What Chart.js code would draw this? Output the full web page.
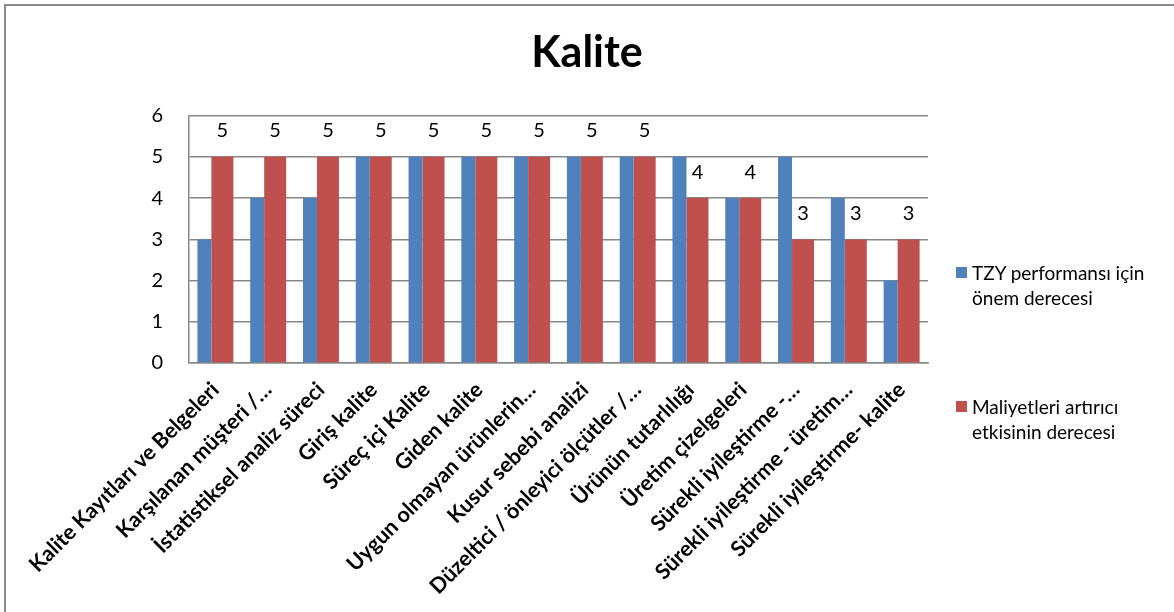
<!DOCTYPE html>
<html lang="tr">
<head>
<meta charset="utf-8">
<title>Kalite</title>
<script src="https://cdn.jsdelivr.net/npm/chart.js@4/dist/chart.umd.min.js"></script>
<style>
  html, body { margin: 0; padding: 0; background: #fff; overflow: hidden; }
  #wrap { position: relative; width: 1174px; height: 612px; }
  #frame {
    position: absolute; left: 4px; top: 4px; width: 2000px; height: 2000px;
    border: 2px solid #8a8a8a; pointer-events: none;
  }
  #legend {
    position: absolute; left: 956px; top: 0; font-family: Lato, sans-serif;
    font-size: 19px; color: #000; line-height: 25px;
  }
  .item { position: absolute; left: 0; white-space: nowrap; }
  .swatch { position: absolute; left: 0; top: 7px; width: 11px; height: 11px; }
  .label { position: absolute; left: 16px; top: 0; }
</style>
</head>
<body>
<div id="wrap">
  <canvas id="kaliteChart" width="1174" height="612"></canvas>
  <div id="frame"></div>
  <div id="legend"></div>
</div>
<script>
// Categories and series
const categories = [
  'Kalite Kayıtları ve Belgeleri',
  'Karşılanan müşteri /…',
  'İstatistiksel analiz süreci',
  'Giriş kalite',
  'Süreç içi Kalite',
  'Giden kalite',
  'Uygun olmayan ürünlerin…',
  'Kusur sebebi analizi',
  'Düzeltici / önleyici ölçütler /…',
  'Ürünün tutarlılığı',
  'Üretim çizelgeleri',
  'Sürekli iyileştirme -…',
  'Sürekli iyileştirme - üretim…',
  'Sürekli iyileştirme- kalite'
];
const onemDerecesi = [3, 4, 4, 5, 5, 5, 5, 5, 5, 5, 4, 5, 4, 2];
const maliyetDerecesi = [5, 5, 5, 5, 5, 5, 5, 5, 5, 4, 4, 3, 3, 3];
const seriesNames = [
  ['TZY performansı için', 'önem derecesi'],
  ['Maliyetleri artırıcı', 'etkisinin derecesi']
];
const yTicks = [0, 1, 2, 3, 4, 5, 6];

const BLUE = '#4F81BD';
const RED = '#C0504D';
const GRID = '#878787';

// Value labels above the red bars
const valueLabels = {
  id: 'valueLabels',
  afterDatasetsDraw(chart) {
    const ctx = chart.ctx;
    const meta = chart.getDatasetMeta(1);
    ctx.save();
    ctx.font = '20px Lato, sans-serif';
    ctx.fillStyle = '#000';
    ctx.textAlign = 'center';
    ctx.textBaseline = 'middle';
    meta.data.forEach((bar, i) => {
      ctx.fillText(String(maliyetDerecesi[i]), bar.x, bar.y - 26);
    });
    ctx.restore();
  }
};

const ctx = document.getElementById('kaliteChart').getContext('2d');
new Chart(ctx, {
  type: 'bar',
  data: {
    labels: categories,
    datasets: [{
      label: seriesNames[0].join(' '),
      data: onemDerecesi,
      backgroundColor: BLUE,
      categoryPercentage: 0.833,
      barPercentage: 0.636
    }, {
      label: seriesNames[1].join(' '),
      data: maliyetDerecesi,
      backgroundColor: RED,
      categoryPercentage: 0.53,
      barPercentage: 1.571
    }]
  },
  options: {
    responsive: false,
    animation: false,
    plugins: {
      legend: { display: false },
      tooltip: { enabled: false },
      title: {
        display: true,
        text: 'Kalite',
        color: '#000',
        font: { family: 'Lato, sans-serif', size: 43, weight: 'bold' },
        padding: { top: 27, bottom: 37 }
      }
    },
    scales: {
      x: {
        grid: { display: false, drawTicks: false },
        border: { display: true, color: GRID, width: 1.5 },
        ticks: {
          autoSkip: false,
          minRotation: 45,
          maxRotation: 45,
          padding: 14,
          color: '#000',
          font: { family: 'Lato, sans-serif', size: 21.5, weight: 'bold' }
        },
        afterFit(scale) { scale.height = 249; }
      },
      y: {
        min: 0,
        max: 6,
        afterBuildTicks(scale) { scale.ticks = yTicks.map(v => ({ value: v })); },
        grid: { color: GRID, lineWidth: 1.5, drawTicks: false },
        border: { display: true, color: GRID, width: 1.5 },
        ticks: {
          padding: 26,
          color: '#000',
          font: { family: 'Lato, sans-serif', size: 20 }
        },
        afterFit(scale) { scale.width = 189; }
      },
      // empty right-hand axis keeps room for the legend
      legendSpace: {
        position: 'right',
        min: 0,
        max: 6,
        grid: { display: false, drawTicks: false },
        border: { display: false },
        ticks: { display: false },
        afterFit(scale) { scale.width = 246; }
      }
    }
  },
  plugins: [valueLabels]
});

// Legend on the right
const legend = document.getElementById('legend');
const legendTops = [260, 394];
[BLUE, RED].forEach((color, i) => {
  const item = document.createElement('div');
  item.className = 'item';
  item.style.top = legendTops[i] + 'px';
  item.innerHTML = '<span class="swatch" style="background:' + color + '"></span>' +
    '<span class="label">' + seriesNames[i].join('<br>') + '</span>';
  legend.appendChild(item);
});
</script>
</body>
</html>
